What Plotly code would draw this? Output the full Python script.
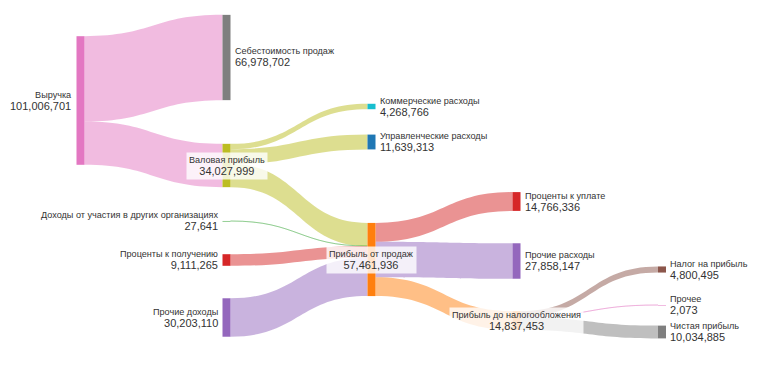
import plotly.graph_objects as go

# ---------------- data ----------------
node_names = [
    "Выручка", "Себестоимость продаж", "Валовая прибыль",
    "Коммерческие расходы", "Управленческие расходы", "Прибыль от продаж",
    "Доходы от участия в других организациях", "Проценты к получению", "Прочие доходы",
    "Проценты к уплате", "Прочие расходы", "Прибыль до налогообложения",
    "Налог на прибыль", "Прочее", "Чистая прибыль",
]
link_source = [0, 0, 2, 2, 2, 6, 7, 8, 5, 5, 5, 11, 11, 11]
link_target = [1, 2, 3, 4, 5, 5, 5, 5, 9, 10, 11, 12, 13, 14]
link_value = [
    66978702, 34027999, 4268766, 11639313, 18119920, 27641, 9111265, 30203110,
    14766336, 27858147, 14837453, 4800495, 2073, 10034885,
]

# ---------------- styles / layout ----------------
W, H = 758, 379
node_colors = ["#e377c2", "#7f7f7f", "#bcbd22", "#17becf", "#1f77b4", "#ff7f0e",
               "#2ca02c", "#d62728", "#9467bd", "#d62728", "#9467bd", "#ff7f0e",
               "#8c564b", "#e377c2", "#7f7f7f"]
link_color_node = [0, 0, 2, 2, 2, 6, 7, 8, 9, 10, 11, 12, 13, 14]  # which node colour each link takes
link_alpha = [0.5, 0.5, 0.5, 0.5, 0.5, 0.3, 0.5, 0.5, 0.5, 0.5, 0.5, 0.5, 0.35, 0.5]

# node centres in pixels (layout positions)
col_px = [80.5, 226.5, 371.5, 516.5, 662.0]
node_col = [0, 1, 1, 2, 2, 2, 1, 1, 1, 3, 3, 3, 4, 4, 4]
node_ypx = [100.5, 57.5, 165.5, 106.5, 142.0, 259.5, 221.0, 260.0, 317.5,
            201.5, 261.0, 320.5, 269.5, 305.0, 332.0]
label_side = ["L", "R", "C", "R", "R", "C", "L", "L", "L", "R", "R", "C", "R", "R", "R"]

thickness = 8
ky_total_px = 178.7  # pixel height of the tallest column's values
pad = (H - ky_total_px) / 7


def hex_rgba(h, a):
    h = h.lstrip("#")
    r, g, b = int(h[0:2], 16), int(h[2:4], 16), int(h[4:6], 16)
    return f"rgba({r},{g},{b},{a})"


link_colors = [hex_rgba(node_colors[i], a) for i, a in zip(link_color_node, link_alpha)]

# node values
n = len(node_names)
inflow = [0] * n
outflow = [0] * n
for s, t, v in zip(link_source, link_target, link_value):
    outflow[s] += v
    inflow[t] += v
node_value = [max(a, b) for a, b in zip(inflow, outflow)]

node_x = [col_px[c] / W for c in node_col]
node_y = [y / H for y in node_ypx]

fig = go.Figure(go.Sankey(
    arrangement="fixed",
    domain=dict(x=[0, 1], y=[0, 1]),
    node=dict(
        label=[""] * n,
        color=node_colors,
        thickness=thickness,
        pad=pad,
        line=dict(width=0),
        x=node_x,
        y=node_y,
        hoverinfo="none",
    ),
    link=dict(
        source=link_source,
        target=link_target,
        value=link_value,
        color=link_colors,
        hoverinfo="none",
    ),
))

annotations = []
for i in range(n):
    text = f"{node_names[i]}<br><span style='font-size:11px'>{node_value[i]:,}</span>"
    side = label_side[i]
    a = dict(
        xref="paper", yref="paper",
        x=node_x[i], y=1 - node_y[i],
        text=text, showarrow=False, yanchor="middle",
        font=dict(family="Arial", size=9.1, color="#333"),
    )
    if side == "L":
        a.update(xanchor="right", align="right", xshift=-(thickness / 2 + 3))
    elif side == "R":
        a.update(xanchor="left", align="left", xshift=thickness / 2 + 2)
    else:
        a.update(xanchor="center", align="center",
                 bgcolor="rgba(255,255,255,0.8)", borderpad=2)
    annotations.append(a)

fig.update_layout(
    width=W, height=H,
    margin=dict(l=0, r=0, t=0, b=0),
    paper_bgcolor="white",
    plot_bgcolor="white",
    annotations=annotations,
    font=dict(family="Arial"),
)

fig.write_html("out.html", config={"displayModeBar": False},
               post_script="document.body.style.margin='0';")
